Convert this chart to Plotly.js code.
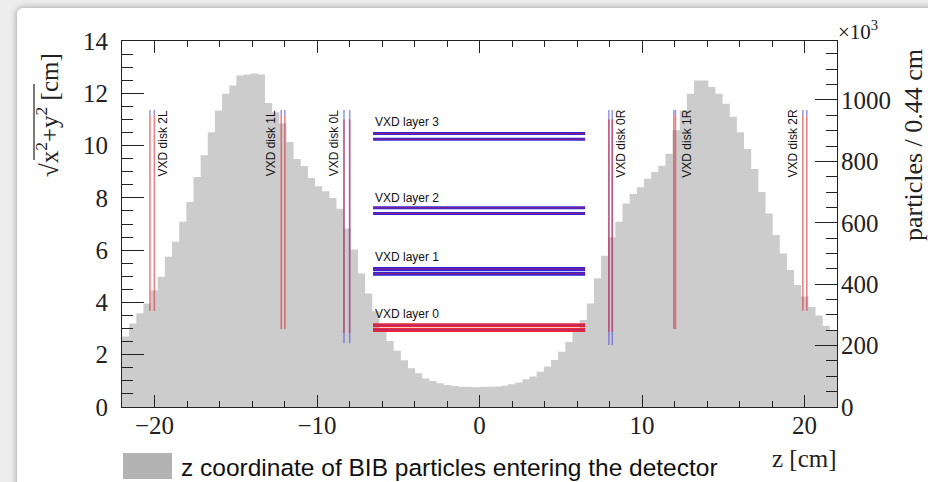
<!DOCTYPE html>
<html>
<head>
<meta charset="utf-8">
<script src="https://cdn.plot.ly/plotly-3.0.1.min.js"></script>
<style>
  html, body { margin: 0; padding: 0; width: 928px; height: 482px; overflow: hidden; background: #ededed; }
  #card { position: absolute; left: 17px; top: 8px; width: 960px; height: 520px; background: #ffffff;
          border-radius: 6px; box-shadow: 0 0 7px rgba(0,0,0,0.35); }
  #chart { position: absolute; left: 0; top: 0; width: 928px; height: 482px; }
</style>
</head>
<body>
<div id="card"></div>
<div id="chart"></div>
<script>
// ---------------- data ----------------
// histogram of z (cm) of BIB particles, 100 bins of 0.44 cm from -22 to 22, counts in units of 10^3
const binStart = -22;
const binWidth = 0.44;
const counts = [
  230, 272, 305, 337, 380, 424, 489, 538, 603, 668,
  749, 820, 895, 966, 1020, 1047, 1080, 1083, 1086, 1083,
  990, 960, 923, 863, 808, 785, 746, 719, 703, 681,
  646, 581, 513, 435, 370, 312, 255, 215, 183, 152,
  126, 110, 93, 85, 77, 72, 68, 66, 66, 64,
  66, 66, 67, 69, 74, 80, 90, 99, 115, 132,
  153, 180, 212, 256, 283, 337, 419, 493, 553, 603,
  663, 694, 716, 743, 765, 786, 825, 901, 966, 1020,
  1063, 1063, 1042, 1020, 988, 945, 895, 840, 775, 700,
  630, 560, 500, 446, 397, 360, 326, 298, 265, 250
];

// VXD disks: z of the sensor planes (cm) and radial extents (cm)
const diskNames = ['VXD disk 2L', 'VXD disk 1L', 'VXD disk 0L', 'VXD disk 0R', 'VXD disk 1R', 'VXD disk 2R'];
const diskZ = [[-20.28, -20.01], [-12.2, -11.98], [-8.34, -7.99], [7.96, 8.17], [11.96, 12.06], [19.9, 20.14]];
const diskRedMin = [3.67, 2.98, 2.83, 2.88, 2.98, 3.68];
const diskRedMax = [11.15, 11.15, 11.0, 11.0, 11.15, 11.15];
const diskBlueMin = [11.15, 11.15, 2.44, 2.37, 11.15, 11.15];
const diskBlueMax = [11.36, 11.36, 11.36, 11.36, 11.36, 11.36];
const diskLabelZ = [-19.42, -12.78, -8.91, 8.72, 12.78, 19.35];
const diskLabelR = 10.08;

// VXD barrel layers: radii (cm) of the double layers, z extent (cm)
const layerNames = ['VXD layer 0', 'VXD layer 1', 'VXD layer 2', 'VXD layer 3'];
const layerR = [[2.95, 3.13], [5.10, 5.28], [7.40, 7.62], [10.24, 10.46]];
const layerZmin = -6.55;
const layerZmax = 6.5;
const layerLabelR = [3.57, 5.75, 7.98, 10.9];

const xTicks = [-20, -10, 0, 10, 20];
const rTicks = [0, 2, 4, 6, 8, 10, 12, 14];
const countTicks = [0, 200, 400, 600, 800, 1000];

// ---------------- traces ----------------
const traces = [];
// step histogram: bin low edges with the last bin closed at the upper edge
const edges = counts.map((_, i) => binStart + i * binWidth).concat([binStart + counts.length * binWidth]);
const stepY = counts.concat([counts[counts.length - 1]]);
traces.push({
  type: 'scatter', mode: 'lines', x: edges, y: stepY, line: { shape: 'hv', width: 0, color: '#cccccc' },
  fill: 'tozeroy', fillcolor: '#cccccc', yaxis: 'y', xaxis: 'x', hoverinfo: 'skip', showlegend: false
});

function segTrace(xs, ys, color, width) {
  return { type: 'scatter', mode: 'lines', x: xs, y: ys, yaxis: 'y2', xaxis: 'x',
           line: { color: color, width: width }, hoverinfo: 'skip', showlegend: false };
}

// layers
layerR.forEach((pair, i) => {
  pair.forEach(r => {
    if (i === 0) {
      traces.push(segTrace([layerZmin, layerZmax], [r, r], 'rgba(235,30,40,0.95)', 4));
      traces.push(segTrace([layerZmin, layerZmax], [r, r], 'rgba(120,40,180,0.6)', 1));
    } else {
      traces.push(segTrace([layerZmin, layerZmax], [r, r], 'rgba(40,20,210,0.95)', i === 1 ? 4 : 3));
      traces.push(segTrace([layerZmin, layerZmax], [r, r], 'rgba(230,40,60,0.55)', 1));
    }
  });
});

// disks
diskZ.forEach((zs, i) => {
  zs.forEach(z => {
    traces.push(segTrace([z, z], [diskBlueMin[i], diskBlueMax[i]], 'rgba(70,70,220,0.55)', 1.6));
    traces.push(segTrace([z, z], [diskRedMin[i], diskRedMax[i]], 'rgba(215,50,60,0.6)', 1.6));
  });
});

// ---------------- layout ----------------
const W = 928, H = 482, L = 122, R = 837, T = 41, B = 407;
const px = x => (x - L) / (R - L);
const py = y => (B - y) / (B - T);
const serif = 'Liberation Serif, Times New Roman, serif';
const sans = 'Liberation Sans, Arial, Helvetica, sans-serif';

const annotations = [];
layerNames.forEach((name, i) => {
  annotations.push({ text: name, x: layerZmin, y: layerLabelR[i], xref: 'x', yref: 'y2',
    xanchor: 'left', yanchor: 'middle', showarrow: false, font: { family: sans, size: 12, color: '#111' } });
});
diskNames.forEach((name, i) => {
  annotations.push({ text: name, x: diskLabelZ[i], y: diskLabelR, xref: 'x', yref: 'y2',
    xanchor: 'center', yanchor: 'middle', textangle: -90, showarrow: false,
    font: { family: sans, size: 12, color: '#111' } });
});
annotations.push({ text: '\u221Ax<sup>2</sup>+y<sup>2</sup> [cm]',
  x: px(47), y: py(115), xref: 'paper', yref: 'paper', xanchor: 'center', yanchor: 'middle',
  textangle: -90, showarrow: false, font: { family: serif, size: 25, color: '#222' } });
annotations.push({ text: 'particles / 0.44 cm', x: px(913), y: py(145), xref: 'paper', yref: 'paper',
  xanchor: 'center', yanchor: 'middle', textangle: -90, showarrow: false,
  font: { family: serif, size: 26, color: '#222' } });
annotations.push({ text: 'z [cm]', x: px(839), y: py(458), xref: 'paper', yref: 'paper',
  xanchor: 'right', yanchor: 'middle', showarrow: false, font: { family: serif, size: 25, color: '#222' } });
annotations.push({ text: '\u00D710<sup>3</sup>', x: px(836), y: py(30), xref: 'paper', yref: 'paper',
  xanchor: 'left', yanchor: 'middle', showarrow: false, font: { family: serif, size: 21, color: '#222' } });
// legend
annotations.push({ text: 'z coordinate of BIB particles entering the detector', x: px(179), y: py(467),
  xref: 'paper', yref: 'paper', xanchor: 'left', yanchor: 'middle', showarrow: false,
  font: { family: sans, size: 24.5, color: '#111' } });

const shapes = [
  { type: 'rect', xref: 'paper', yref: 'paper', x0: px(123), x1: px(172), y0: py(453), y1: py(479),
    fillcolor: '#b3b3b3', line: { width: 0 } },
  // overline (vinculum) of the square root in the rotated y title
  { type: 'line', xref: 'paper', yref: 'paper', x0: px(34), x1: px(34), y0: py(160), y1: py(84),
    line: { color: '#222', width: 1.2 } }
];

const tickFont = { family: serif, size: 25, color: '#222' };

const layout = {
  width: W, height: H,
  margin: { l: L, r: W - R, t: T, b: H - B, pad: 0 },
  paper_bgcolor: 'rgba(0,0,0,0)', plot_bgcolor: 'rgba(0,0,0,0)',
  showlegend: false,
  xaxis: {
    range: [-22, 22], tickvals: xTicks, ticks: 'inside', ticklen: 12, tickwidth: 1, tickcolor: '#222',
    showline: true, linecolor: '#222', linewidth: 1, mirror: 'ticks', showgrid: false, zeroline: false,
    tickfont: tickFont, ticklabelstandoff: -4,
    minor: { dtick: 2, ticks: 'inside', ticklen: 6, tickcolor: '#222', showgrid: false }
  },
  yaxis: {
    range: [0, 1192], side: 'right', tickvals: countTicks, ticks: 'inside', ticklen: 22, tickcolor: '#222',
    showline: true, linecolor: '#222', linewidth: 1, showgrid: false, zeroline: false, tickfont: tickFont,
    ticklabelstandoff: -2,
    minor: { dtick: 50, ticks: 'inside', ticklen: 11, tickcolor: '#222', showgrid: false }
  },
  yaxis2: {
    range: [0, 14], side: 'left', overlaying: 'y', tickvals: rTicks, ticks: 'inside', ticklen: 22, tickcolor: '#222',
    showline: true, linecolor: '#222', linewidth: 1, showgrid: false, zeroline: false, tickfont: tickFont,
    ticklabelstandoff: 8,
    minor: { dtick: 0.5, ticks: 'inside', ticklen: 11, tickcolor: '#222', showgrid: false }
  },
  annotations: annotations,
  shapes: shapes
};

Plotly.newPlot('chart', traces, layout, { staticPlot: true, displayModeBar: false });
</script>
</body>
</html>
